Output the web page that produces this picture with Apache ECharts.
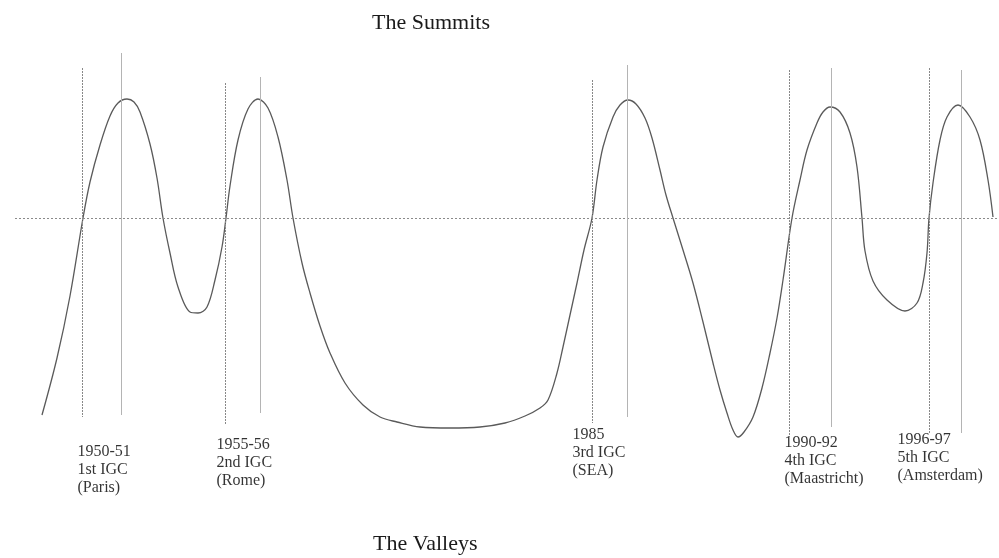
<!DOCTYPE html>
<html lang="en">

<head>
    <meta charset="UTF-8">
    <title>The Summits and the Valleys</title>
    <script src="https://cdn.jsdelivr.net/npm/echarts@6/dist/echarts.min.js"></script>
    <style>
        html, body { margin: 0; padding: 0; background: #fff; }
        #main { width: 999px; height: 558px; }
    </style>
</head>

<body>
    <div id="main"></div>
    <script type="text/javascript">
    // the curve: x position along the time line, level above (+) or below (-) the middle line
    var curveX = [42, 57, 70, 83, 90, 100, 110, 118, 127, 134, 140, 150, 157, 163,
        170, 178, 190, 198, 207, 215, 222, 226,
        230, 238, 248, 258, 268, 278, 287, 293,
        302, 310, 320, 330, 345, 363, 380, 397, 420, 450, 480, 505, 525, 540, 548, 557, 563, 570, 577, 584, 592,
        597, 603, 613, 620, 628, 636, 645, 652, 660, 666, 673,
        683, 693, 703, 713, 720, 727, 733, 738, 744, 753, 762, 770, 777, 783, 792,
        800, 807, 817, 823, 830, 840, 850, 857, 862,
        865, 873, 887, 905, 917, 923, 927, 929,
        933, 940, 947, 958, 970, 980, 988, 993];
    var curveY = [-197, -140, -78, 0, 36, 73, 102, 115, 119, 116, 106, 74, 40, 0,
        -35, -69, -94, -95, -89, -62, -29, 0,
        32, 78, 109, 119, 110, 81, 38, 0,
        -45, -75, -108, -135, -165, -187, -199, -204, -209, -210, -209, -205, -198, -190, -182, -155, -129, -97, -65, -32, 0,
        38, 71, 101, 113, 118, 114, 100, 80, 48, 23, 0,
        -32, -65, -104, -145, -172, -195, -212, -219, -214, -199, -170, -135, -100, -62, 0,
        38, 68, 95, 106, 111, 106, 85, 51, 0,
        -33, -63, -82, -93, -85, -65, -35, 0,
        35, 78, 101, 113, 101, 78, 38, 1];

    // vertical marks: the start of each congress and its summit
    var startX = [82, 225, 592, 789, 929];
    var startTop = [150, 135, 138, 148, 150];
    var startBottom = [-199, -207, -205, -219, -215];
    var peakX = [121, 260, 627, 831, 961];
    var peakTop = [165, 141, 153, 150, 148];
    var peakBottom = [-197, -195, -199, -209, -215];

    // congress labels under the curve
    var labelX = [78, 217, 573, 785, 898];
    var labelTop = [-225, -218, -208, -216, -213];
    var labelYears = ['1950-51', '1955-56', '1985', '1990-92', '1996-97'];
    var labelNames = ['1st IGC', '2nd IGC', '3rd IGC', '4th IGC', '5th IGC'];
    var labelPlaces = ['(Paris)', '(Rome)', '(SEA)', '(Maastricht)', '(Amsterdam)'];

    var serif = '"Liberation Serif", "DejaVu Serif", serif';

    var curveData = [];
    for (var i = 0; i < curveX.length; i++) {
        curveData.push([curveX[i], curveY[i]]);
    }

    function verticals(xs, tops, bottoms) {
        var out = [];
        for (var i = 0; i < xs.length; i++) {
            out.push([{ coord: [xs[i], tops[i]] }, { coord: [xs[i], bottoms[i]] }]);
        }
        return out;
    }

    var labelData = [];
    for (var j = 0; j < labelX.length; j++) {
        labelData.push({
            value: [labelX[j], labelTop[j]],
            text: labelYears[j] + '\n' + labelNames[j] + '\n' + labelPlaces[j]
        });
    }

    var myChart = echarts.init(document.getElementById('main'));
    var option = {
        animation: false,
        backgroundColor: '#fff',
        title: [{
            text: 'The Summits',
            left: 372,
            top: 12,
            padding: 0,
            textStyle: { fontFamily: serif, fontSize: 22, fontWeight: 'normal', color: '#1a1a1a' }
        }, {
            text: 'The Valleys',
            left: 373,
            top: 533,
            padding: 0,
            textStyle: { fontFamily: serif, fontSize: 22, fontWeight: 'normal', color: '#1a1a1a' }
        }],
        grid: { left: 0, right: 0, top: 0, bottom: 0 },
        xAxis: { type: 'value', min: 0, max: 999, show: false },
        yAxis: { type: 'value', min: -340, max: 218, show: false },
        series: [{
            // middle line
            type: 'line',
            data: [],
            silent: true,
            markLine: {
                symbol: 'none',
                silent: true,
                label: { show: false },
                lineStyle: { color: '#8a8a8a', width: 1, type: [2, 2] },
                data: [[{ coord: [15, 0] }, { coord: [999, 0] }]]
            }
        }, {
            // start of each congress
            type: 'line',
            data: [],
            silent: true,
            markLine: {
                symbol: 'none',
                silent: true,
                label: { show: false },
                lineStyle: { color: '#888', width: 1, type: [2, 1] },
                data: verticals(startX, startTop, startBottom)
            }
        }, {
            // summit of each congress
            type: 'line',
            data: [],
            silent: true,
            markLine: {
                symbol: 'none',
                silent: true,
                label: { show: false },
                lineStyle: { color: '#b4b4b4', width: 1, type: 'solid' },
                data: verticals(peakX, peakTop, peakBottom)
            }
        }, {
            type: 'line',
            data: curveData,
            smooth: 0.35,
            symbol: 'none',
            lineStyle: { color: '#5a5a5a', width: 1.3 }
        }, {
            type: 'scatter',
            data: labelData,
            symbol: 'circle',
            symbolSize: 1,
            itemStyle: { color: 'rgba(0,0,0,0)' },
            label: {
                show: true,
                position: [0, 0],
                align: 'left',
                verticalAlign: 'top',
                fontFamily: serif,
                fontSize: 16,
                lineHeight: 18,
                color: '#000',
                formatter: function (p) { return p.data.text; }
            }
        }]
    };
    myChart.setOption(option);
    </script>
</body>

</html>
